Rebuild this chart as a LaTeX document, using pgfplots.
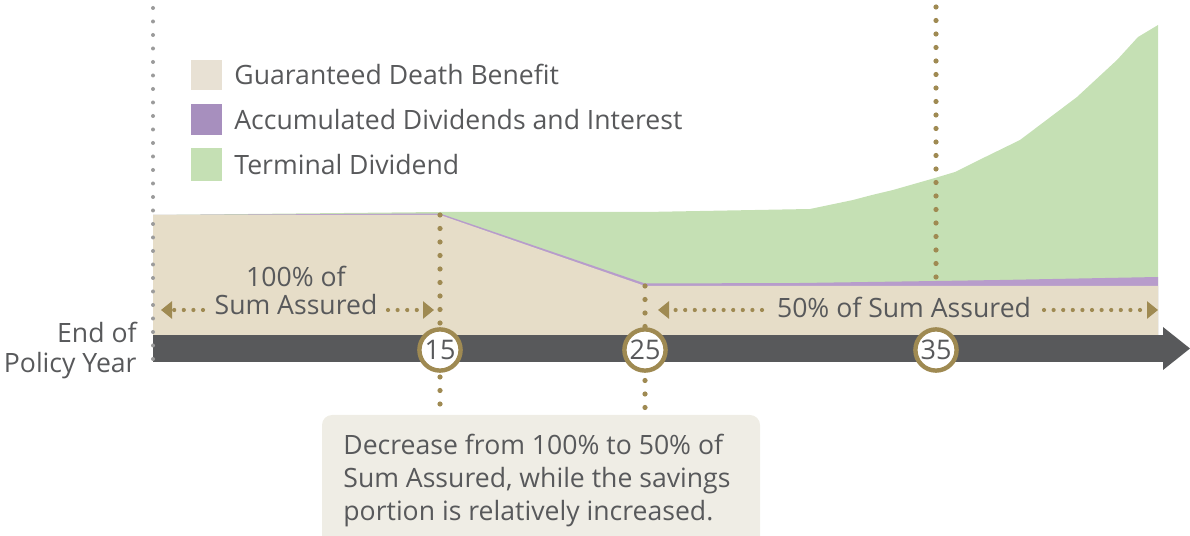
\documentclass[border=0pt]{standalone}
\usepackage{pgfplots}
\pgfplotsset{compat=1.18}
\usepackage{fontspec}
\setmainfont{Open Sans}
\usetikzlibrary{arrows.meta}
\definecolor{txt}{HTML}{58595B}
\definecolor{gold}{HTML}{9F8A52}
\definecolor{beige}{HTML}{E6DDC8}
\definecolor{beigeleg}{HTML}{E8E1D4}
\definecolor{purp}{HTML}{B79CCB}
\definecolor{purpleg}{HTML}{A78FBE}
\definecolor{grn}{HTML}{C5E0B4}
\definecolor{boxc}{HTML}{EFEDE5}
\definecolor{dotg}{HTML}{9B9B9B}
\begin{document}
\begin{tikzpicture}
\useasboundingbox (0,0) rectangle (595pt,268pt);
\begin{axis}[at={(0,0)},anchor=south west,width=595pt,height=268pt,scale only axis,
  xmin=0,xmax=1190,ymin=0,ymax=536,hide axis,clip=false]
% Terminal Dividend (top of stack)
\addplot[draw=none,fill=grn] coordinates {(153,201)(153,321)(440,324)(645,324)(810,327)(853,336)(872,341)(893,346)(935,358)(955,364)(975,374)(1020,396)(1077,439)(1117,476)(1138,499)(1158,511)(1158,201)} -- cycle;
% Accumulated Dividends and Interest
\addplot[draw=none,fill=purp] coordinates {(153,201)(153,321)(440,322.5)(645,252.5)(800,253)(936,255)(1000,256)(1158,259)(1158,201)} -- cycle;
% Guaranteed Death Benefit
\addplot[draw=none,fill=beige] coordinates {(153,201)(153,321)(440,321)(645,250)(1158,250)(1158,201)} -- cycle;
% timeline bar
\fill[txt] (153,201) rectangle (1164,174);
\fill[txt] (1163,209) -- (1190,187.5) -- (1163,166) -- cycle;
% dotted guide lines
\draw[dotg,line width=2pt,line cap=round,dash pattern=on 0pt off 6.75pt] (153,528) -- (153,174);
\draw[gold,line width=2.6pt,line cap=round,dash pattern=on 0pt off 6.75pt] (440,321) -- (440,128);
\draw[gold,line width=2.6pt,line cap=round,dash pattern=on 0pt off 6.75pt] (645,250) -- (645,128);
\draw[gold,line width=2.6pt,line cap=round,dash pattern=on 0pt off 6.75pt] (936,529) -- (936,246);
% dotted arrows
\tikzset{darr/.style={gold,line width=2.1pt,line cap=round,dash pattern=on 0pt off 4.8pt,-{Triangle[length=5.5pt,width=8.5pt]}}}
\draw[darr] (203,226) -- (161,226);
\draw[darr] (388,226) -- (434,226);
\draw[darr] (762,226) -- (658,226);
\draw[darr] (1044,226) -- (1158,226);
% year circles
\tikzset{yc/.style={gold,line width=2.2pt,fill=white},yn/.style={txt,inner sep=0pt,font=\fontsize{13.5}{15}\selectfont}}
\draw[yc] (440,186) circle[radius=10.3pt];
\node[yn] at (440,186) {15};
\draw[yc] (645,186) circle[radius=10.3pt];
\node[yn] at (645,186) {25};
\draw[yc] (936,186) circle[radius=10.3pt];
\node[yn] at (936,186) {35};
% legend
\fill[beigeleg] (191,476) rectangle (222,446);
\fill[purpleg] (191,432) rectangle (222,401);
\fill[grn] (191,388) rectangle (222,355);
\tikzset{lt/.style={txt,inner sep=0pt,anchor=base west,font=\fontsize{13.3}{16}\selectfont}}
\node[lt] at (234,451) {Guaranteed Death Benefit};
\node[lt] at (234,406) {Accumulated Dividends and Interest};
\node[lt] at (234,361) {Terminal Dividend};
% in-chart labels
\tikzset{ct/.style={txt,inner sep=0pt,anchor=base,font=\fontsize{13.3}{16}\selectfont}}
\node[ct] at (296,249) {100\% of};
\node[ct] at (296,221) {Sum Assured};
\node[ct] at (904,218) {50\% of Sum Assured};
\tikzset{rt/.style={txt,inner sep=0pt,anchor=base east,font=\fontsize{13.3}{16}\selectfont}}
\node[rt] at (137,193) {End of};
\node[rt] at (137,163) {Policy Year};
% callout
\fill[boxc,rounded corners=5pt] (322,-20) rectangle (760,121);
\node[lt] at (343,81) {Decrease from 100\% to 50\% of};
\node[lt] at (343,48.5) {Sum Assured, while the savings};
\node[lt] at (343,16) {portion is relatively increased.};
\end{axis}
\end{tikzpicture}
\end{document}
